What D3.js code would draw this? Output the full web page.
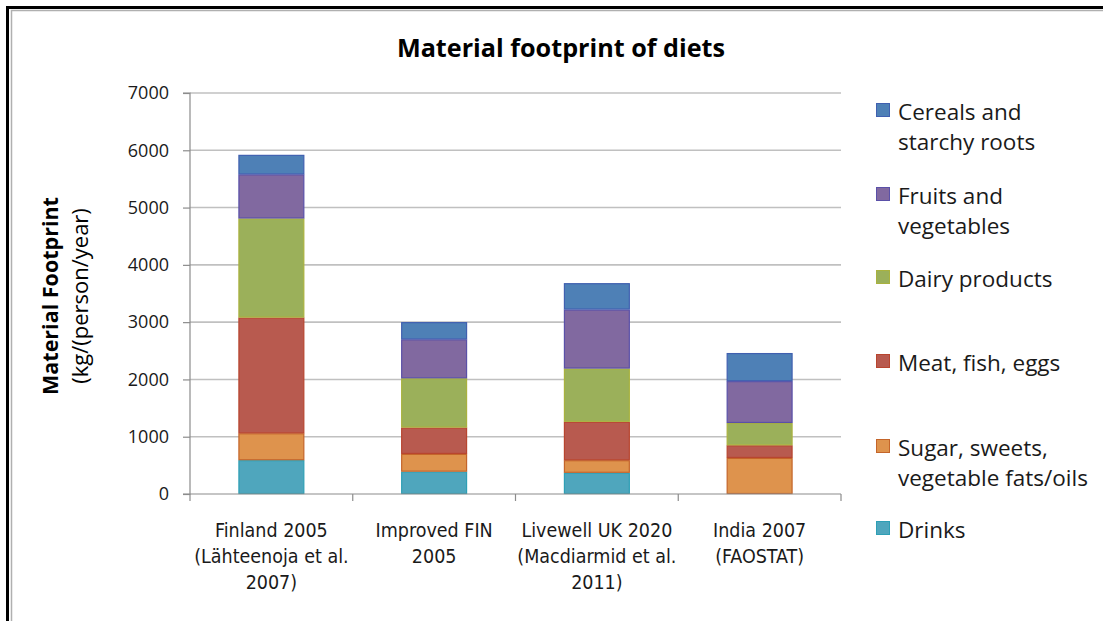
<!DOCTYPE html>
<html><head><meta charset="utf-8">
<script src="https://cdn.jsdelivr.net/npm/d3@7"></script>
<style>
html,body{margin:0;padding:0;background:#fff;overflow:hidden;}
svg{display:block;}
</style></head>
<body>
<svg id="chart" width="1103" height="621"></svg>
<script>
const categories = [
  ["Finland 2005", "(Lähteenoja et al.", "2007)"],
  ["Improved FIN", "2005"],
  ["Livewell UK 2020", "(Macdiarmid et al.", "2011)"],
  ["India 2007", "(FAOSTAT)"]
];
const seriesNames = ["Drinks", "Sugar, sweets, vegetable fats/oils", "Meat, fish, eggs", "Dairy products", "Fruits and vegetables", "Cereals and starchy roots"];
const drinks  = [590, 390, 370, 0];
const sugar   = [470, 310, 220, 630];
const meat    = [2020, 460, 670, 220];
const dairy   = [1730, 860, 930, 390];
const fruits  = [770, 680, 1030, 730];
const cereals = [340, 300, 460, 490];
const yTicks = [0, 1000, 2000, 3000, 4000, 5000, 6000, 7000];
const legendLines = [
  ["Cereals and", "starchy roots"],
  ["Fruits and", "vegetables"],
  ["Dairy products"],
  ["Meat, fish, eggs"],
  ["Sugar, sweets,", "vegetable fats/oils"],
  ["Drinks"]
];
const fills   = ["#4FA6BD", "#DE934D", "#B85A4F", "#9BB05A", "#8169A0", "#4E80B6"];
const strokes = ["#2E9FB5", "#C4652A", "#B8452F", "#A9B23E", "#5A50A8", "#4060B0"];

(function () {
const svg = d3.select("#chart");
const W = 1103, H = 621;

// frame
svg.append("rect").attr("x", 7.5).attr("y", 7.5).attr("width", W + 20).attr("height", H + 20)
  .attr("fill", "none").attr("stroke", "#000").attr("stroke-width", 3);
svg.append("rect").attr("x", 11.5).attr("y", 10.5).attr("width", W + 20).attr("height", H + 20)
  .attr("fill", "none").attr("stroke", "#b0b0b0").attr("stroke-width", 1.5);

const pL = 190, pR = 841, pT = 93, pB = 494;
const x = d3.scaleBand().domain(d3.range(categories.length)).range([pL, pR])
  .paddingInner(0.595).paddingOuter(0.2975);
const y = d3.scaleLinear().domain([0, 7000]).range([pB, pT]);

// gridlines
svg.append("g").selectAll("line").data(yTicks.filter(d => d > 0)).join("line")
  .attr("x1", pL).attr("x2", pR)
  .attr("y1", d => y(d)).attr("y2", d => y(d))
  .attr("stroke", "#c0c0c0").attr("stroke-width", 1.6);

// stacked bars
const rows = categories.map((c, i) => ({
  i, drinks: drinks[i], sugar: sugar[i], meat: meat[i], dairy: dairy[i], fruits: fruits[i], cereals: cereals[i]
}));
const keys = ["drinks", "sugar", "meat", "dairy", "fruits", "cereals"];
const stacked = d3.stack().keys(keys)(rows);
svg.append("g").selectAll("g").data(stacked).join("g")
  .attr("fill", (d, k) => fills[k]).attr("stroke", (d, k) => strokes[k])
  .selectAll("rect").data(d => d.filter(s => s[1] - s[0] > 0)).join("rect")
  .attr("x", d => x(d.data.i) + 0.5)
  .attr("width", x.bandwidth() - 1)
  .attr("y", d => y(d[1]) + 0.5)
  .attr("height", d => Math.max(0, y(d[0]) - y(d[1]) - 1))
  .attr("stroke-width", 1.2);

// y axis
const yAxis = d3.axisLeft(y).tickValues(yTicks).tickSize(7).tickPadding(14).tickFormat(d3.format("d"));
const ya = svg.append("g").attr("transform", `translate(${pL},0)`).call(yAxis);
ya.select(".domain").attr("stroke", "#8c8c8c").attr("stroke-width", 1.2).attr("d", `M-7,${pB}H0V${pT}H-7`);
ya.selectAll(".tick line").attr("stroke", "#8c8c8c").attr("stroke-width", 1.2);
ya.selectAll(".tick text").attr("font-family", "'Open Sans', sans-serif").attr("font-size", 18).attr("fill", "#1a1a1a");

// x axis baseline & boundary ticks
const step = x.step();
const bounds = d3.range(categories.length + 1).map(i => pL + i * step);
svg.append("line").attr("x1", pL).attr("x2", pR).attr("y1", pB).attr("y2", pB)
  .attr("stroke", "#8c8c8c").attr("stroke-width", 1.2);
svg.append("g").selectAll("line").data(bounds).join("line")
  .attr("x1", d => d).attr("x2", d => d).attr("y1", pB).attr("y2", pB + 7)
  .attr("stroke", "#8c8c8c").attr("stroke-width", 1.2);

// x labels
const xl = svg.append("g").selectAll("text").data(categories).join("text")
  .attr("text-anchor", "middle")
  .attr("font-family", "'DejaVu Sans Condensed', 'Liberation Sans Narrow', sans-serif")
  .attr("font-size", 19.5).attr("fill", "#1a1a1a")
  .attr("transform", (d, i) => `translate(${x(i) + x.bandwidth() / 2},537)`);
xl.selectAll("tspan").data(d => d).join("tspan")
  .attr("x", 0).attr("dy", (d, j) => j === 0 ? 0 : 26).text(d => d);

// title
svg.append("text").attr("x", 561).attr("y", 56.5).attr("text-anchor", "middle")
  .attr("font-family", "'Open Sans', sans-serif").attr("font-weight", "bold").attr("font-size", 25.2)
  .attr("fill", "#000").text("Material footprint of diets");

// y title
const yt = svg.append("g").attr("transform", "translate(58,296) rotate(-90)");
yt.append("text").attr("text-anchor", "middle").attr("font-family", "'Open Sans', sans-serif")
  .attr("font-weight", "bold").attr("font-size", 21.5).attr("fill", "#000").text("Material Footprint");
yt.append("text").attr("text-anchor", "middle").attr("y", 30).attr("font-family", "'Open Sans', sans-serif")
  .attr("font-size", 22).attr("fill", "#000").text("(kg/(person/year)");

// legend
const legendY = [111, 195, 278, 362, 447, 529];
const lg = svg.append("g").selectAll("g").data(legendLines).join("g")
  .attr("transform", (d, i) => `translate(876,${legendY[i]})`);
lg.append("rect").attr("x", 0.5).attr("y", -7.5).attr("width", 13).attr("height", 13)
  .attr("fill", (d, i) => fills[5 - i]).attr("stroke", (d, i) => strokes[5 - i]).attr("stroke-width", 1);
lg.append("text").attr("x", 22).attr("y", 0).attr("dominant-baseline", "central")
  .attr("font-family", "'Open Sans', sans-serif").attr("font-size", 22.5).attr("fill", "#1a1a1a")
  .selectAll("tspan").data(d => d).join("tspan").attr("x", 22).attr("dy", (d, j) => j === 0 ? 0 : 30).text(d => d);
})();
</script>
</body></html>
